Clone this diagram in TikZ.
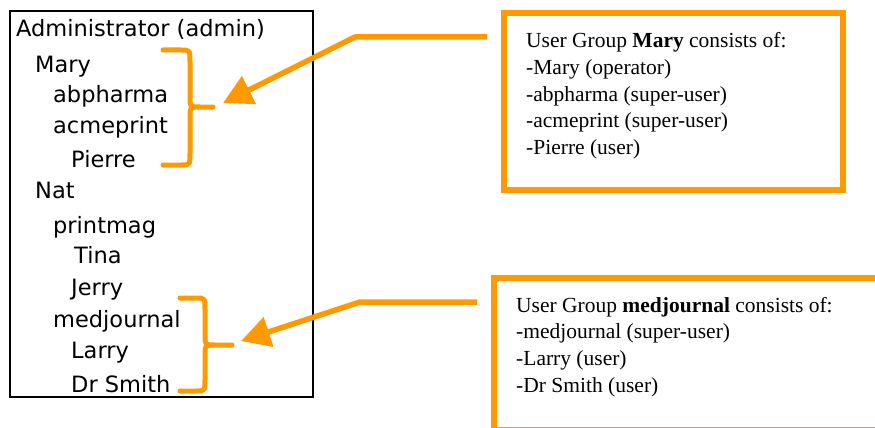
\documentclass[tikz,border=0pt]{standalone}
\usepackage{fontspec}
\setmainfont{Liberation Serif}
\newfontfamily\treefont{DejaVu Sans}
\usetikzlibrary{arrows.meta,calc}
\definecolor{org}{RGB}{255,153,0}
\begin{document}
\begin{tikzpicture}[x=1pt,y=-1pt,
  treetxt/.style={anchor=base west, inner sep=0pt, font=\treefont\fontsize{22.5}{27}\selectfont},
  infotxt/.style={anchor=base west, inner sep=0pt, font=\fontsize{21.5}{26}\selectfont},
  panel/.style={draw=black, line width=2pt, inner sep=0pt},
  infobox/.style={draw=org, line width=6pt, inner sep=0pt},
  bracestyle/.style={draw=org, line width=5pt, line cap=round, line join=round},
  pointer/.style={draw=org, line width=5.5pt, line join=round, -{Triangle[length=29pt,width=30pt]}}
]
\useasboundingbox[fill=white] (0,0) rectangle (875,428);
\clip (0,0) rectangle (875,428);

% left tree panel
\node[panel, minimum width=303pt, minimum height=386pt] (panel) at (161.5,204) {};
\node[treetxt] (t0) at (16,37) {Administrator (admin)};
\node[treetxt] (t1) at (35,72) {Mary};
\node[treetxt] (t2) at (53,102) {abpharma};
\node[treetxt] (t3) at (53,133) {acmeprint};
\node[treetxt] (t4) at (71,167) {Pierre};
\node[treetxt] (t5) at (35,198) {Nat};
\node[treetxt] (t6) at (53,233) {printmag};
\node[treetxt] (t7) at (74,263) {Tina};
\node[treetxt] (t8) at (71,295) {Jerry};
\node[treetxt] (t9) at (53,327) {medjournal};
\node[treetxt] (t10) at (71,358) {Larry};
\node[treetxt] (t11) at (71,392) {Dr Smith};

% braces
\draw[bracestyle] (163,50) -- (181,50) .. controls (190,50) .. (190,62) -- (190,97)
  .. controls (190,107) .. (200,107) -- (213,107)
  (200,107) .. controls (190,107) .. (190,117) -- (190,153)
  .. controls (190,165) .. (181,165) -- (163,165);
\coordinate (brace1tip) at (213,107);
\draw[bracestyle] (180,298) -- (196,298) .. controls (205,298) .. (205,310) -- (205,335)
  .. controls (205,345) .. (215,345) -- (232,345)
  (215,345) .. controls (205,345) .. (205,355) -- (205,379)
  .. controls (205,391) .. (196,391) -- (180,391);
\coordinate (brace2tip) at (232,345);

% info boxes
\node[infobox, minimum width=339pt, minimum height=177pt] (box1) at (673.5,101.5) {};
\node[infotxt] (b1l1) at (526,48) {User Group \textbf{Mary} consists of:};
\node[infotxt] (b1l2) at (526,74.5) {-Mary (operator)};
\node[infotxt] (b1l3) at (526,101) {-abpharma (super-user)};
\node[infotxt] (b1l4) at (526,127.5) {-acmeprint (super-user)};
\node[infotxt] (b1l5) at (526,154) {-Pierre (user)};

\node[infobox, minimum width=386pt, minimum height=152pt] (box2) at (687,354) {};
\node[infotxt] (b2l1) at (516,312) {User Group \textbf{medjournal} consists of:};
\node[infotxt] (b2l2) at (516,338.7) {-medjournal (super-user)};
\node[infotxt] (b2l3) at (516,365.4) {-Larry (user)};
\node[infotxt] (b2l4) at (516,392) {-Dr Smith (user)};

% pointers
\coordinate (a1start) at ($(box1.west)+(-14,-64.5)$);
\coordinate (a1bend) at (355,37);
\coordinate (a1end) at ($(brace1tip)+(10,-4)$);
\draw[pointer] (a1start) -- (a1bend) -- (a1end);

\coordinate (a2start) at ($(box2.west)+(-14,-52)$);
\coordinate (a2bend) at (360,302);
\coordinate (a2end) at ($(brace2tip)+(9,-4)$);
\draw[pointer] (a2start) -- (a2bend) -- (a2end);
\end{tikzpicture}
\end{document}
